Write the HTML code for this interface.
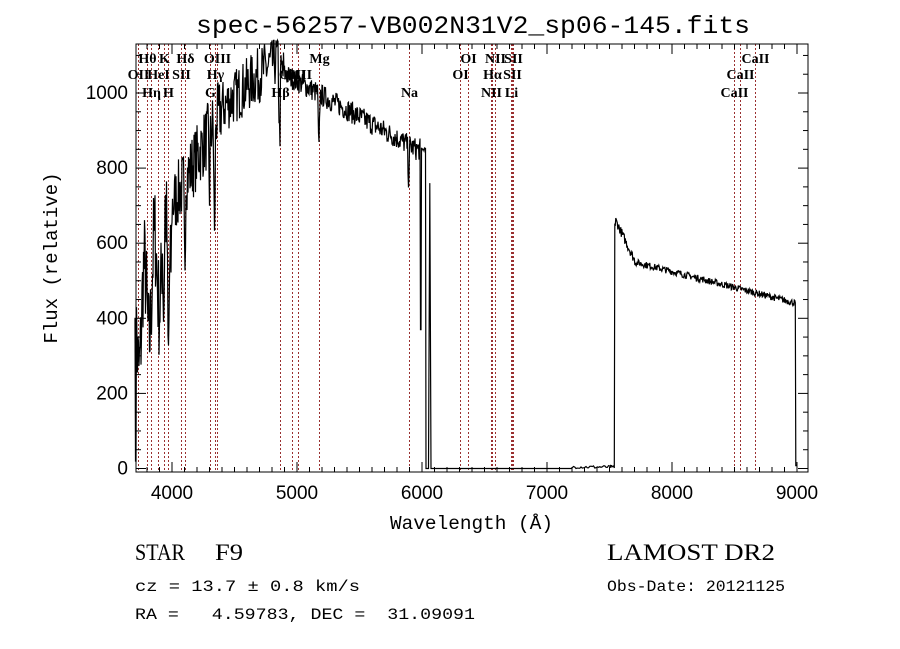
<!DOCTYPE html>
<html><head><meta charset="utf-8"><style>
html,body{margin:0;padding:0;background:#fff;width:900px;height:649px;overflow:hidden}
svg{display:block}
text{white-space:pre}
</style></head><body>
<svg id="s" width="900" height="649" xmlns="http://www.w3.org/2000/svg" xml:space="preserve">
<rect width="900" height="649" fill="#fff"/>
<text x="196" y="33" font-family="Liberation Mono, monospace" font-size="25" textLength="554" lengthAdjust="spacingAndGlyphs">spec-56257-VB002N31V2_sp06-145.fits</text>
<g id="lines"></g>
<path id="spec" fill="none" stroke="#000" stroke-width="1.2"/>
<rect x="136" y="44" width="672" height="428" fill="none" stroke="#000" stroke-width="1"/>
<g id="ticks" stroke="#000" stroke-width="1"></g>
<g id="labs" font-family="Liberation Sans, sans-serif" font-size="19"></g>
<g id="ll" font-family="Liberation Serif, serif" font-size="14" font-weight="bold" text-anchor="middle"></g>
<text x="390" y="529" font-family="Liberation Mono, monospace" font-size="19" textLength="163" lengthAdjust="spacingAndGlyphs">Wavelength (Å)</text>
<text transform="translate(57,258) rotate(-90)" font-family="Liberation Mono, monospace" font-size="19" text-anchor="middle">Flux (relative)</text>
<g font-family="Liberation Serif, serif" font-size="23">
<text x="135" y="560" textLength="50" lengthAdjust="spacingAndGlyphs">STAR</text>
<text x="215" y="560" textLength="28" lengthAdjust="spacingAndGlyphs">F9</text>
<text x="607" y="560" textLength="168" lengthAdjust="spacingAndGlyphs">LAMOST DR2</text>
</g>
<g font-family="Liberation Mono, monospace" font-size="16">
<text x="135" y="591" textLength="225" lengthAdjust="spacingAndGlyphs">cz = 13.7 ± 0.8 km/s</text>
<text x="607" y="591" textLength="178" lengthAdjust="spacingAndGlyphs">Obs-Date: 20121125</text>
<text x="135" y="619" textLength="340" lengthAdjust="spacingAndGlyphs">RA =   4.59783, DEC =  31.09091</text>
</g>
</svg>
<script>
var NS="http://www.w3.org/2000/svg";
function X(w){return 672+(w-8000)*0.125;}
function Y(f){return 468.5-f*0.3755;}
function el(p,t,a,txt){var e=document.createElementNS(NS,t);for(var k in a)e.setAttribute(k,a[k]);if(txt)e.textContent=txt;document.getElementById(p).appendChild(e);}
for(var w=3800;w<=9000;w+=100){var x=X(w),big=w%1000==0;var h=big?10:5;
el("ticks","line",{x1:x,x2:x,y1:472,y2:472-h});el("ticks","line",{x1:x,x2:x,y1:44,y2:44+h});
if(big)el("labs","text",{x:x,y:499,"text-anchor":"middle"},""+w);}
for(var f=0;f<=1100;f+=50){var y=Y(f),big=f%200==0;var h=big?10:5;
el("ticks","line",{x1:136,x2:136+h,y1:y,y2:y});el("ticks","line",{x1:808,x2:808-h,y1:y,y2:y});
if(big)el("labs","text",{x:128,y:y+6,"text-anchor":"end"},""+f);}
var L=[[3727,"OII",2],[3798,"Hθ",1],[3835,"Hη",3],[3889,"HeI",2],[3934,"K",1],[3970,"H",3],[4072,"SII",2],[4102,"Hδ",1],[4304,"G",3],[4341,"Hγ",2],[4363,"OIII",1],[4861,"Hβ",3],[4959,"OIII",2],[5007,"OIII",2],[5175,"Mg",1],[5893,"Na",3],[6300,"OI",2],[6364,"OI",1],[6548,"NII",3],[6563,"Hα",2],[6583,"NII",1],[6708,"Li",3],[6717,"SII",2],[6731,"SII",1],[8498,"CaII",3],[8542,"CaII",2],[8662,"CaII",1]];
var ry={1:63,2:79,3:97};
L.forEach(function(l){var x=Math.round(X(l[0]))+0.5;el("lines","line",{x1:x,x2:x,y1:44,y2:472,stroke:"#9a3030","stroke-width":1,"stroke-dasharray":"2,2"});
el("ll","text",{x:x,y:ry[l[2]]},l[1]);});
var seed=7;function r(){seed=(seed*16807)%2147483647;return seed/2147483647;}
function base(w){
 if(w<3715)return 20;
 if(w<4000)return 360+120*Math.sin(w/13)+ (w-3715)*1.0;
 if(w<4400)return 700+(w-4000)*0.65;
 if(w<4850)return 960+(w-4400)*0.3;
 if(w<5950)return 1060-(w-4850)*0.19;
 if(w<6030)return 850;
 if(w<7200)return 0;
 if(w<7540)return 4;
 if(w<7550)return 650;
 if(w<7700)return 660-(w-7550)*0.7;
 if(w<8990)return 550-(w-7700)*0.085;
 return 0;}
function noise(w){
 if(w<3715||(w>=6030&&w<7200))return 0;
 if(w<4000)return 280; if(w<4400)return 180; if(w<4900)return 150; if(w<6000)return 60;
 if(w<7540)return 8; if(w<7700)return 25; return 18;}
var d="";var w=3700;
var dips=[[3934,-300],[3970,-300],[4102,-250],[4340,-330],[4861,-200],[5175,-170],[5893,-100],[4300,-150]];
while(w<=9000){
 var f=base(w)+(r()-0.5)*noise(w);
 dips.forEach(function(dp){var dd=Math.abs(w-dp[0]);if(dd<10)f+=dp[1]*(1-dd/10);});
 if(w>5985&&w<5995)f=370;
 if(w>6055&&w<6065)f=760;
 if(w<3705)f=400;
 if(f<0)f=0;if(f>1140)f=1140;
 d+=(d?"L":"M")+X(w).toFixed(1)+","+Y(f).toFixed(1);
 w+= (w<6030||w>7500)?4:10;
}
document.getElementById("spec").setAttribute("d",d);
</script>
</body></html>
